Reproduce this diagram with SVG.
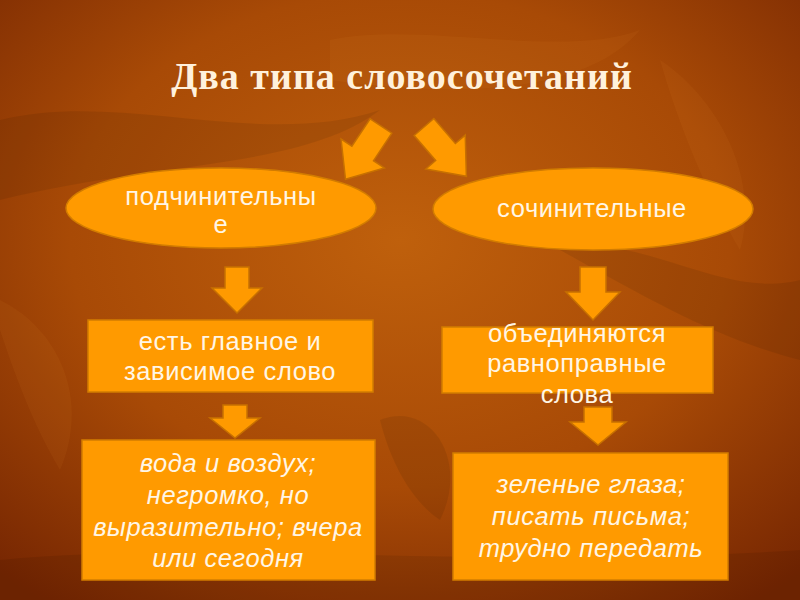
<svg xmlns="http://www.w3.org/2000/svg" width="800" height="600" viewBox="0 0 800 600">
<defs>
<radialGradient id="bg" cx="0.5" cy="0.4" r="0.75">
<stop offset="0" stop-color="#BF600C"/>
<stop offset="0.55" stop-color="#A84A06"/>
<stop offset="1" stop-color="#762602"/>
</radialGradient>
<style>
.shape{fill:#FF9A00;stroke:#D27C00;stroke-width:1.5}
.arrow{fill:#FF9A00;stroke:#C77000;stroke-width:1.5;stroke-linejoin:miter}
.t{font-family:"Liberation Sans",Arial,sans-serif;font-size:25.5px;fill:#FFF6E6;text-anchor:middle;letter-spacing:0.6px}
.ti{font-family:"Liberation Sans",Arial,sans-serif;font-size:25.5px;font-style:italic;fill:#FFF6E6;text-anchor:middle;letter-spacing:0.6px}
.title{font-family:"Liberation Serif","Times New Roman",serif;font-size:38px;font-weight:bold;fill:#FFF1DC;text-anchor:middle;letter-spacing:1px}
.leaf{fill:#000;opacity:0.08}
.leafl{fill:#FFB040;opacity:0.06}
</style>
</defs>
<rect width="800" height="600" fill="url(#bg)"/>
<g id="background-texture">
<path class="leaf" d="M0,120 C120,90 260,150 380,110 C300,170 160,160 0,200 Z"/>
<path class="leafl" d="M330,40 C420,20 560,60 640,30 C590,90 470,100 330,80 Z"/>
<path class="leaf" d="M560,250 C640,230 720,300 800,280 L800,360 C720,340 650,300 560,250 Z"/>
<path class="leafl" d="M0,300 C60,330 90,400 60,470 C30,420 10,360 0,330 Z"/>
<path class="leaf" d="M380,420 C430,400 470,460 440,520 C410,500 390,460 380,420 Z"/>
<path class="leafl" d="M660,60 C720,100 760,180 740,250 C710,200 680,130 660,60 Z"/>
<path class="leaf" d="M0,560 C200,540 500,570 800,550 L800,600 L0,600 Z"/>
</g>
<text class="title" x="402" y="89">Два типа словосочетаний</text>
<g id="connectors">
<path class="arrow" transform="translate(381,126) rotate(33.7)" d="M-13,0 H13 V33 H26 L0,64 L-26,33 H-13 Z"/>
<path class="arrow" transform="translate(424,127) rotate(-40.7)" d="M-13,0 H13 V33 H26 L0,65 L-26,33 H-13 Z"/>
<path class="arrow" d="M225,267 H249 V288 H262 L237,313 L212,288 H225 Z"/>
<path class="arrow" d="M223,405 H247 V418 H260 L235,438 L210,418 H223 Z"/>
<path class="arrow" d="M580,267 H606 V292 H620 L593,320 L566,292 H580 Z"/>
<path class="arrow" d="M584,407 H612 V422 H626 L598,445 L570,422 H584 Z"/>
</g>
<g id="node-podch">
<ellipse class="shape" cx="221" cy="208" rx="155" ry="40"/>
<text class="t" x="221" y="205">подчинительны</text>
<text class="t" x="221" y="233">е</text>
</g>
<g id="node-sochin">
<ellipse class="shape" cx="593" cy="209" rx="160" ry="41"/>
<text class="t" x="592" y="217">сочинительные</text>
</g>
<g id="node-glavnoe">
<rect class="shape" x="88" y="320" width="285" height="72"/>
<text class="t" x="230" y="350">есть главное и</text>
<text class="t" x="230" y="380">зависимое слово</text>
</g>
<g id="node-obed">
<rect class="shape" x="442" y="327" width="271" height="66"/>
<text class="t" x="577" y="342">объединяются</text>
<text class="t" x="577" y="372">равноправные</text>
<text class="t" x="577" y="403">слова</text>
</g>
<g id="node-example-left">
<rect class="shape" x="82" y="440" width="293" height="140"/>
<text class="ti" x="228" y="472">вода и воздух;</text>
<text class="ti" x="228" y="504">негромко, но</text>
<text class="ti" x="228" y="536">выразительно; вчера</text>
<text class="ti" x="228" y="567">или сегодня</text>
</g>
<g id="node-example-right">
<rect class="shape" x="453" y="453" width="275" height="127"/>
<text class="ti" x="591" y="493">зеленые глаза;</text>
<text class="ti" x="591" y="525">писать письма;</text>
<text class="ti" x="591" y="557">трудно передать</text>
</g>
</svg>
